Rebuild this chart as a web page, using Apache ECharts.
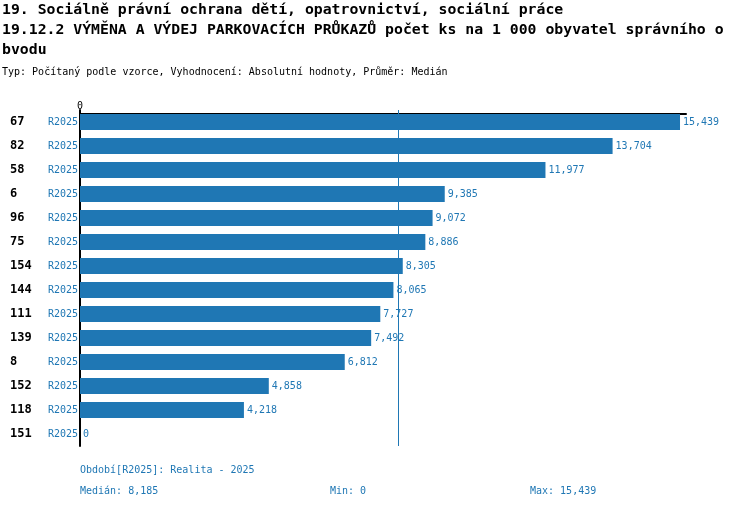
<!DOCTYPE html>
<html>
<head>
<meta charset="utf-8">
<script src="https://cdn.jsdelivr.net/npm/echarts@6/dist/echarts.min.js"></script>
<style>
  html, body { margin: 0; padding: 0; background: #fff; }
  #main { width: 750px; height: 510px; }
</style>
</head>
<body>
<div id="main"></div>
<script>
// data
const categories = ['67', '82', '58', '6', '96', '75', '154', '144', '111', '139', '8', '152', '118', '151'];
const values = [15439, 13704, 11977, 9385, 9072, 8886, 8305, 8065, 7727, 7492, 6812, 4858, 4218, 0];
const period = 'R2025';
const titleLines = [
  '19. Sociálně právní ochrana dětí, opatrovnictví, sociální práce',
  '19.12.2 VÝMĚNA A VÝDEJ PARKOVACÍCH PRŮKAZŮ počet ks na 1 000 obyvatel správního o',
  'bvodu'
];
const subtitle = 'Typ: Počítaný podle vzorce, Vyhodnocení: Absolutní hodnoty, Průměr: Medián';
const periodNote = 'Období[R2025]: Realita - 2025';

const blue = '#1f77b4';
const mono = '"DejaVu Sans Mono", monospace';
const fmt = v => v.toLocaleString('en-US');

// footer stats
const sorted = values.slice().sort((a, b) => a - b);
const mid = sorted.length / 2;
const median = sorted.length % 2 ? sorted[Math.floor(mid)] : (sorted[mid - 1] + sorted[mid]) / 2;
const minV = Math.min(...values);
const maxV = Math.max(...values);
const axisMax = Math.round(maxV * 1.01);

var myChart = echarts.init(document.getElementById('main'));

var option = {
  animation: false,
  grid: { left: 80, top: 110, width: 606, height: 336, containLabel: false },
  xAxis: {
    type: 'value',
    position: 'top',
    offset: -4,
    min: 0,
    max: axisMax,
    interval: axisMax,
    axisLine: { show: true, lineStyle: { color: '#000', width: 2 } },
    axisTick: { show: false },
    splitLine: { show: false },
    axisLabel: {
      margin: 3,
      fontFamily: mono, fontSize: 10, color: '#000',
      formatter: v => (v === 0 ? '0' : '')
    }
  },
  yAxis: {
    type: 'category',
    inverse: true,
    data: categories,
    axisLine: { show: true, lineStyle: { color: '#000', width: 2 } },
    axisTick: { show: false },
    axisLabel: {
      margin: 2,
      formatter: c => `{n|${c}}{r|${period}}`,
      rich: {
        n: { width: 37, align: 'left', fontFamily: mono, fontWeight: 'bold', fontSize: 12, color: '#000' },
        r: { width: 31, align: 'right', fontFamily: mono, fontSize: 10, color: blue }
      }
    }
  },
  series: [{
    type: 'bar',
    data: values,
    barWidth: 16,
    itemStyle: { color: blue },
    label: {
      show: true,
      position: 'right',
      distance: 3,
      fontFamily: mono, fontSize: 10, color: blue,
      formatter: p => fmt(p.value)
    },
    markLine: {
      silent: true,
      z: 10,
      symbol: 'none',
      label: { show: false },
      lineStyle: { color: blue, width: 1, type: 'solid' },
      data: [{ xAxis: median }]
    }
  }],
  graphic: [
    { type: 'text', left: 2, top: 3, style: { text: titleLines[0], font: 'bold 14.8px ' + mono, fill: '#000' } },
    { type: 'text', left: 2, top: 23, style: { text: titleLines[1], font: 'bold 14.8px ' + mono, fill: '#000' } },
    { type: 'text', left: 2, top: 43, style: { text: titleLines[2], font: 'bold 14.8px ' + mono, fill: '#000' } },
    { type: 'text', left: 2, top: 67, style: { text: subtitle, font: '10px ' + mono, fill: '#000' } },
    { type: 'text', left: 80, top: 465, style: { text: periodNote, font: '10px ' + mono, fill: blue } },
    { type: 'text', left: 80, top: 486, style: { text: 'Medián: ' + fmt(median), font: '10px ' + mono, fill: blue } },
    { type: 'text', left: 330, top: 486, style: { text: 'Min: ' + fmt(minV), font: '10px ' + mono, fill: blue } },
    { type: 'text', left: 530, top: 486, style: { text: 'Max: ' + fmt(maxV), font: '10px ' + mono, fill: blue } }
  ]
};

myChart.setOption(option);
</script>
</body>
</html>
